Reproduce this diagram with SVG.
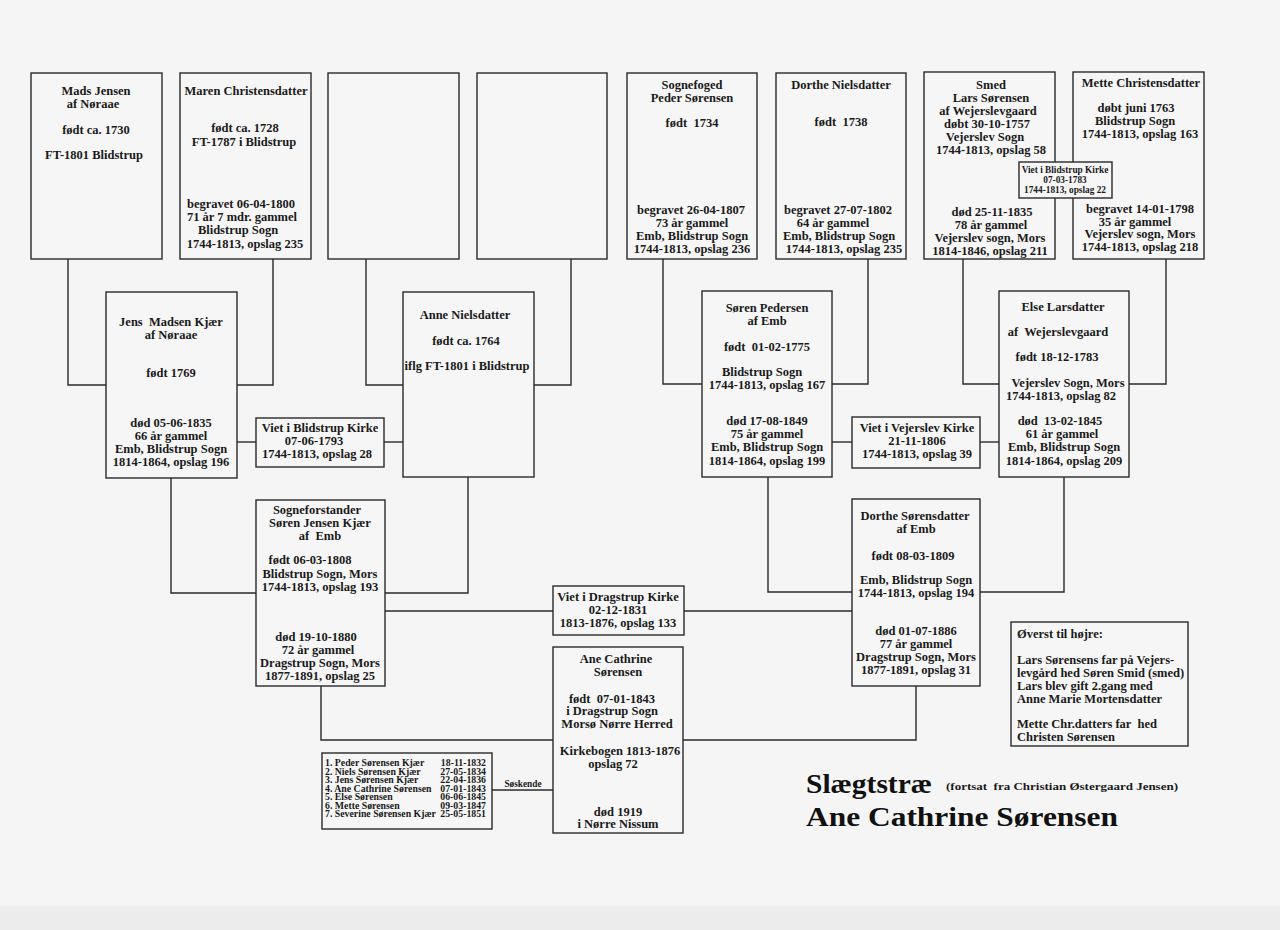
<svg xmlns="http://www.w3.org/2000/svg" width="1280" height="930" viewBox="0 0 1280 930">
<style>
text{font-family:"Liberation Serif","DejaVu Serif",serif;font-weight:bold;font-size:12.5px;fill:#1a1a1a;stroke:none;text-anchor:middle;white-space:pre}
.box{fill:#f6f6f6;stroke:#2a2a2a;stroke-width:1.4}
.con{fill:none;stroke:#2a2a2a;stroke-width:1.4}
.sm{font-size:9.3px}
.xs{font-size:9.8px}
.l{text-anchor:start}
.r{text-anchor:end}
.title{font-size:28px;text-anchor:start;fill:#111}
.sub{font-size:9.5px;text-anchor:start}
</style>
<rect x="0" y="0" width="1280" height="930" fill="#f5f5f5"/>
<rect x="0" y="906" width="1280" height="24" fill="#ececec"/>
<g id="connectors" class="con">
<polyline points="68,259 68,385 106,385"/>
<polyline points="273,259 273,385 237,385"/>
<polyline points="366,259 366,385 403,385"/>
<polyline points="571,259 571,385 534,385"/>
<line x1="237" y1="442" x2="256" y2="442"/>
<line x1="384" y1="442" x2="403" y2="442"/>
<polyline points="663,258 663,384 702,384"/>
<polyline points="868,258 868,384 832,384"/>
<polyline points="963,258 963,384 999,384"/>
<polyline points="1166,258 1166,384 1129,384"/>
<line x1="832" y1="442" x2="852" y2="442"/>
<line x1="980" y1="442" x2="999" y2="442"/>
<polyline points="171,478 171,593 256,593"/>
<polyline points="468,477 468,593 385,593"/>
<polyline points="768,477 768,592 852,592"/>
<polyline points="1064,477 1064,592 980,592"/>
<line x1="385" y1="611" x2="553" y2="611"/>
<line x1="684" y1="611" x2="852" y2="611"/>
<polyline points="321,686 321,740 553,740"/>
<polyline points="916,686 916,740 683,740"/>
<line x1="492" y1="790" x2="553" y2="790"/>
</g>
<g id="soskende-label"><text class="sm" x="523" y="787">Søskende</text></g>
<g id="mads">
<rect class="box" x="31" y="73" width="131" height="186"/>
<text x="96" y="95">Mads Jensen</text>
<text x="93" y="108">af Nøraae</text>
<text x="96" y="134">født ca. 1730</text>
<text x="94" y="159">FT-1801 Blidstrup</text>
</g>
<g id="maren">
<rect class="box" x="180" y="73" width="131" height="186"/>
<text x="246" y="95">Maren Christensdatter</text>
<text x="245" y="132">født ca. 1728</text>
<text x="244" y="146">FT-1787 i Blidstrup</text>
<text x="241" y="208">begravet 06-04-1800</text>
<text x="242" y="221">71 år 7 mdr. gammel</text>
<text x="238" y="234">Blidstrup Sogn</text>
<text x="245" y="248">1744-1813, opslag 235</text>
</g>
<g id="empty1"><rect class="box" x="328" y="73" width="131" height="186"/></g>
<g id="empty2"><rect class="box" x="477" y="73" width="130" height="186"/></g>
<g id="sognefoged">
<rect class="box" x="627" y="73" width="130" height="186"/>
<text x="692" y="89">Sognefoged</text>
<text x="692" y="102">Peder Sørensen</text>
<text x="692" y="127">født  1734</text>
<text x="691" y="214">begravet 26-04-1807</text>
<text x="692" y="227">73 år gammel</text>
<text x="692" y="240">Emb, Blidstrup Sogn</text>
<text x="692" y="253">1744-1813, opslag 236</text>
</g>
<g id="dortheN">
<rect class="box" x="776" y="73" width="130" height="186"/>
<text x="841" y="89">Dorthe Nielsdatter</text>
<text x="841" y="126">født  1738</text>
<text x="838" y="214">begravet 27-07-1802</text>
<text x="833" y="227">64 år gammel</text>
<text x="839" y="240">Emb, Blidstrup Sogn</text>
<text x="844" y="253">1744-1813, opslag 235</text>
</g>
<g id="smed">
<rect class="box" x="924" y="72" width="131" height="187"/>
<text x="991" y="89">Smed</text>
<text x="991" y="102">Lars Sørensen</text>
<text x="988" y="115">af Wejerslevgaard</text>
<text x="987" y="128">døbt 30-10-1757</text>
<text x="985" y="141">Vejerslev Sogn</text>
<text x="991" y="154">1744-1813, opslag 58</text>
<text x="992" y="216">død 25-11-1835</text>
<text x="991" y="229">78 år gammel</text>
<text x="990" y="242">Vejerslev sogn, Mors</text>
<text x="990" y="255">1814-1846, opslag 211</text>
</g>
<g id="mette">
<rect class="box" x="1073" y="72" width="131" height="187"/>
<text x="1141" y="87">Mette Christensdatter</text>
<text x="1136" y="112">døbt juni 1763</text>
<text x="1135" y="125">Blidstrup Sogn</text>
<text x="1140" y="138">1744-1813, opslag 163</text>
<text x="1140" y="213">begravet 14-01-1798</text>
<text x="1135" y="226">35 år gammel</text>
<text x="1140" y="238">Vejerslev sogn, Mors</text>
<text x="1140" y="251">1744-1813, opslag 218</text>
</g>
<g id="viet-lars-mette">
<rect class="box" x="1019" y="162" width="93" height="36"/>
<text class="sm" x="1065" y="173">Viet i Blidstrup Kirke</text>
<text class="sm" x="1065" y="183">07-03-1783</text>
<text class="sm" x="1065" y="193">1744-1813, opslag 22</text>
</g>
<g id="jens">
<rect class="box" x="106" y="292" width="131" height="186"/>
<text x="171" y="326">Jens  Madsen Kjær</text>
<text x="171" y="339">af Nøraae</text>
<text x="171" y="377">født 1769</text>
<text x="171" y="427">død 05-06-1835</text>
<text x="171" y="440">66 år gammel</text>
<text x="171" y="453">Emb, Blidstrup Sogn</text>
<text x="171" y="466">1814-1864, opslag 196</text>
</g>
<g id="viet-jens-anne">
<rect class="box" x="256" y="418" width="128" height="49"/>
<text x="320" y="432">Viet i Blidstrup Kirke</text>
<text x="314" y="445">07-06-1793</text>
<text x="317" y="458">1744-1813, opslag 28</text>
</g>
<g id="anne">
<rect class="box" x="403" y="292" width="131" height="185"/>
<text x="465" y="319">Anne Nielsdatter</text>
<text x="466" y="345">født ca. 1764</text>
<text x="467" y="370">iflg FT-1801 i Blidstrup</text>
</g>
<g id="sorenP">
<rect class="box" x="702" y="291" width="130" height="186"/>
<text x="767" y="312">Søren Pedersen</text>
<text x="767" y="325">af Emb</text>
<text x="767" y="351">født  01-02-1775</text>
<text x="762" y="376">Blidstrup Sogn</text>
<text x="767" y="389">1744-1813, opslag 167</text>
<text x="767" y="425">død 17-08-1849</text>
<text x="767" y="438">75 år gammel</text>
<text x="767" y="451">Emb, Blidstrup Sogn</text>
<text x="767" y="465">1814-1864, opslag 199</text>
</g>
<g id="viet-soren-else">
<rect class="box" x="852" y="417" width="128" height="51"/>
<text x="917" y="432">Viet i Vejerslev Kirke</text>
<text x="917" y="445">21-11-1806</text>
<text x="917" y="458">1744-1813, opslag 39</text>
</g>
<g id="else">
<rect class="box" x="999" y="291" width="130" height="186"/>
<text x="1063" y="311">Else Larsdatter</text>
<text x="1058" y="336">af  Wejerslevgaard</text>
<text x="1057" y="361">født 18-12-1783</text>
<text x="1068" y="387">Vejerslev Sogn, Mors</text>
<text x="1061" y="400">1744-1813, opslag 82</text>
<text x="1060" y="425">død  13-02-1845</text>
<text x="1062" y="438">61 år gammel</text>
<text x="1064" y="451">Emb, Blidstrup Sogn</text>
<text x="1064" y="465">1814-1864, opslag 209</text>
</g>
<g id="sorenJ">
<rect class="box" x="256" y="500" width="129" height="186"/>
<text x="317" y="514">Sogneforstander</text>
<text x="320" y="527">Søren Jensen Kjær</text>
<text x="320" y="540">af  Emb</text>
<text x="310" y="564">født 06-03-1808</text>
<text x="320" y="578">Blidstrup Sogn, Mors</text>
<text x="320" y="591">1744-1813, opslag 193</text>
<text x="316" y="641">død 19-10-1880</text>
<text x="318" y="654">72 år gammel</text>
<text x="320" y="667">Dragstrup Sogn, Mors</text>
<text x="320" y="680">1877-1891, opslag 25</text>
</g>
<g id="viet-dragstrup">
<rect class="box" x="553" y="586" width="131" height="49"/>
<text x="618" y="601">Viet i Dragstrup Kirke</text>
<text x="618" y="614">02-12-1831</text>
<text x="618" y="627">1813-1876, opslag 133</text>
</g>
<g id="dortheS">
<rect class="box" x="852" y="499" width="128" height="187"/>
<text x="915" y="520">Dorthe Sørensdatter</text>
<text x="916" y="533">af Emb</text>
<text x="913" y="560">født 08-03-1809</text>
<text x="916" y="584">Emb, Blidstrup Sogn</text>
<text x="916" y="597">1744-1813, opslag 194</text>
<text x="916" y="635">død 01-07-1886</text>
<text x="916" y="648">77 år gammel</text>
<text x="916" y="661">Dragstrup Sogn, Mors</text>
<text x="916" y="674">1877-1891, opslag 31</text>
</g>
<g id="ane">
<rect class="box" x="553" y="647" width="130" height="186"/>
<text x="616" y="663">Ane Cathrine</text>
<text x="618" y="676">Sørensen</text>
<text x="612" y="703">født  07-01-1843</text>
<text x="612" y="715">i Dragstrup Sogn</text>
<text x="617" y="728">Morsø Nørre Herred</text>
<text x="620" y="755">Kirkebogen 1813-1876</text>
<text x="613" y="768">opslag 72</text>
<text x="618" y="816">død 1919</text>
<text x="618" y="828">i Nørre Nissum</text>
</g>
<g id="soskende">
<rect class="box" x="322" y="753" width="170" height="76"/>
<text class="xs l" x="325" y="766">1. Peder Sørensen Kjær</text>
<text class="xs r" x="486" y="766">18-11-1832</text>
<text class="xs l" x="325" y="774.5">2. Niels Sørensen Kjær</text>
<text class="xs r" x="486" y="774.5">27-05-1834</text>
<text class="xs l" x="325" y="783">3. Jens Sørensen Kjær</text>
<text class="xs r" x="486" y="783">22-04-1836</text>
<text class="xs l" x="325" y="791.5">4. Ane Cathrine Sørensen</text>
<text class="xs r" x="486" y="791.5">07-01-1843</text>
<text class="xs l" x="325" y="800">5. Else Sørensen</text>
<text class="xs r" x="486" y="800">06-06-1845</text>
<text class="xs l" x="325" y="808.5">6. Mette Sørensen</text>
<text class="xs r" x="486" y="808.5">09-03-1847</text>
<text class="xs l" x="325" y="817">7. Severine Sørensen Kjær</text>
<text class="xs r" x="486" y="817">25-05-1851</text>
</g>
<g id="note">
<rect class="box" x="1011" y="622" width="177" height="124"/>
<text class="l" x="1017" y="638">Øverst til højre:</text>
<text class="l" x="1017" y="664">Lars Sørensens far på Vejers-</text>
<text class="l" x="1017" y="677">levgård hed Søren Smid (smed)</text>
<text class="l" x="1017" y="690">Lars blev gift 2.gang med</text>
<text class="l" x="1017" y="703">Anne Marie Mortensdatter</text>
<text class="l" x="1017" y="728">Mette Chr.datters far  hed</text>
<text class="l" x="1017" y="741">Christen Sørensen</text>
</g>
<g id="title">
<text class="title" x="806" y="793" textLength="126" lengthAdjust="spacingAndGlyphs">Slægtstræ</text>
<text class="sub" x="946" y="790" textLength="232" lengthAdjust="spacingAndGlyphs">(fortsat  fra Christian Østergaard Jensen)</text>
<text class="title" x="806" y="826" textLength="312" lengthAdjust="spacingAndGlyphs">Ane Cathrine Sørensen</text>
</g>
</svg>
